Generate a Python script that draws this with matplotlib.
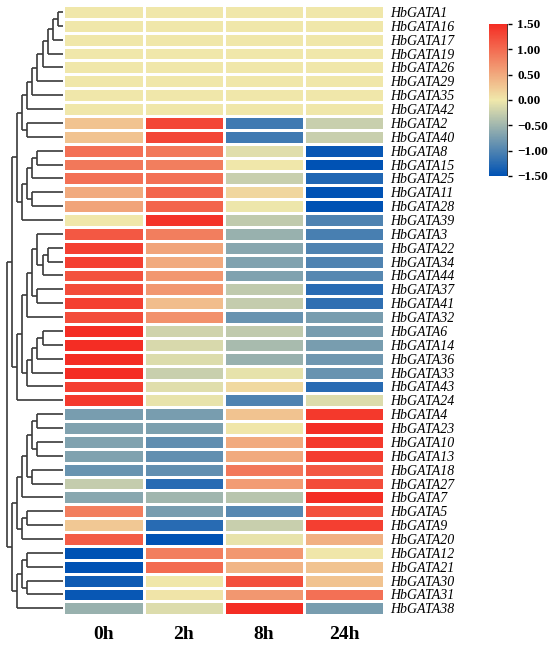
import numpy as np
import matplotlib
matplotlib.use("Agg")
import matplotlib.pyplot as plt
from matplotlib.colors import LinearSegmentedColormap, Normalize
from matplotlib.ticker import FuncFormatter

# time points
samples = ['0h', '2h', '8h', '24h']

# gene order as shown (top to bottom)
genes = ['HbGATA1', 'HbGATA16', 'HbGATA17', 'HbGATA19', 'HbGATA26', 'HbGATA29',
         'HbGATA35', 'HbGATA42', 'HbGATA2', 'HbGATA40', 'HbGATA8', 'HbGATA15',
         'HbGATA25', 'HbGATA11', 'HbGATA28', 'HbGATA39', 'HbGATA3', 'HbGATA22',
         'HbGATA34', 'HbGATA44', 'HbGATA37', 'HbGATA41', 'HbGATA32', 'HbGATA6',
         'HbGATA14', 'HbGATA36', 'HbGATA33', 'HbGATA43', 'HbGATA24', 'HbGATA4',
         'HbGATA23', 'HbGATA10', 'HbGATA13', 'HbGATA18', 'HbGATA27', 'HbGATA7',
         'HbGATA5', 'HbGATA9', 'HbGATA20', 'HbGATA12', 'HbGATA21', 'HbGATA30',
         'HbGATA31', 'HbGATA38']

# z-score values per time point
v_0h = [0, 0, 0, 0, 0, 0, 0, 0, 0.30, 0.30, 0.95, 0.90, 0.95, 0.50, 0.55, 0.0,
        1.15, 1.35, 1.35, 1.20, 1.25, 1.35, 1.25, 1.50, 1.50, 1.50, 1.50, 1.35, 1.40,
        -0.75, -0.70, -0.70, -0.70, -0.85, -0.28, -0.65,
        0.85, 0.25, 1.12, -1.55, -1.50, -1.40, -1.45, -0.55]
v_2h = [0, 0, 0, 0, 0, 0, 0, 0, 1.30, 1.30, 0.90, 0.85, 0.95, 1.05, 1.05, 1.45,
        0.85, 0.55, 0.50, 0.65, 0.65, 0.35, 0.70, -0.20, -0.15, -0.12, -0.25, -0.10, -0.05,
        -0.75, -0.72, -0.90, -0.88, -0.88, -1.25, -0.50,
        -0.75, -1.25, -1.50, 0.85, 1.00, 0.0, 0.03, -0.12]
v_8h = [0, 0, 0, 0, 0, 0, 0, 0, -1.10, -1.10, -0.10, 0.0, -0.25, 0.15, -0.02, -0.30,
        -0.55, -0.65, -0.70, -0.70, -0.30, -0.28, -0.85, -0.30, -0.45, -0.55, -0.07, 0.12, -1.00,
        0.30, 0.02, 0.50, 0.50, 0.90, 0.60, -0.35,
        -0.95, -0.25, -0.05, 0.65, 0.40, 1.22, 0.65, 1.50]
v_24h = [0, 0, 0, 0, 0, 0, 0, 0, -0.25, -0.25, -1.45, -1.50, -1.30, -1.50, -1.50, -1.00,
         -1.05, -1.00, -1.00, -0.95, -1.25, -1.20, -0.75, -0.75, -0.75, -0.80, -0.85, -1.25, -0.12,
         1.40, 1.48, 1.40, 1.38, 1.15, 1.25, 1.50,
         1.20, 1.35, 0.45, 0.02, 0.30, 0.30, 0.95, -0.75]


def N(a, b, h):
    return (a, b, h)


# row clustering tree (leaf names, merge height)
A1 = N(N(N(N(N(N(N('HbGATA1', 'HbGATA16', 1.0), 'HbGATA17', 2.1), 'HbGATA19', 3.1),
                 'HbGATA26', 4.1), 'HbGATA29', 5.3), 'HbGATA35', 6.3), 'HbGATA42', 7.3)
A2 = N(N(N(N('HbGATA8', 'HbGATA15', 5.3), 'HbGATA25', 6.3),
         N('HbGATA11', 'HbGATA28', 6.3), 7.3), 'HbGATA39', 8.3)
A = N(N(A1, N('HbGATA2', 'HbGATA40', 7.3), 8.3), A2, 9.3)
B = N(N(N('HbGATA3', N(N('HbGATA22', 'HbGATA34', 3.1), 'HbGATA44', 4.1), 5.3),
        N('HbGATA37', 'HbGATA41', 5.3), 6.3), 'HbGATA32', 7.3)
C = N(N(N(N('HbGATA6', 'HbGATA14', 4.1), 'HbGATA36', 5.3), 'HbGATA33', 6.3), 'HbGATA43', 7.3)
BC = N(N(B, C, 8.3), 'HbGATA24', 9.3)
D = N(N(N(N('HbGATA4', 'HbGATA23', 5.3), N('HbGATA10', 'HbGATA13', 5.3), 6.3),
        N('HbGATA18', 'HbGATA27', 6.3), 7.3), 'HbGATA7', 8.3)
E = N(N('HbGATA5', 'HbGATA9', 7.3), 'HbGATA20', 8.3)
F = N(N(N('HbGATA12', 'HbGATA21', 7.3), N('HbGATA30', 'HbGATA31', 7.3), 8.3), 'HbGATA38', 9.3)
tree = N(N(A, BC, 10.2), N(N(D, E, 9.3), F, 10.2), 11.2)

data = np.array([v_0h, v_2h, v_8h, v_24h]).T

cmap = LinearSegmentedColormap.from_list('bwr_tb', ['#0052b4', '#f0e8ab', '#f42d24'])
norm = Normalize(-1.5, 1.5)

plt.rcParams['font.family'] = ['Liberation Serif', 'DejaVu Serif']

W, H = 550, 646
fig = plt.figure(figsize=(5.5, 6.46), dpi=100)

hx0, hx1 = 63.3, 384.3
hy0, hy1 = 5, 615.3
ax = fig.add_axes([hx0 / W, 1 - hy1 / H, (hx1 - hx0) / W, (hy1 - hy0) / H])
ax.pcolormesh(data, cmap=cmap, norm=norm, edgecolors='white', linewidth=1.0)
ax.set_xlim(0, len(samples))
ax.set_ylim(len(genes), 0)
ax.set_xticks(np.arange(len(samples)) + 0.5)
ax.set_xticklabels(samples, fontsize=14, fontweight='bold')
ax.set_yticks(np.arange(len(genes)) + 0.5)
ax.set_yticklabels(genes, fontsize=10, style='italic')
ax.yaxis.tick_right()
ax.tick_params(length=0, pad=4)
ax.tick_params(axis='x', pad=8)
for s in ax.spines.values():
    s.set_visible(False)

# dendrogram
dax = fig.add_axes([0, 1 - hy1 / H, hx0 / W, (hy1 - hy0) / H])
pos = {g: i + 0.5 for i, g in enumerate(genes)}


def draw(node):
    if isinstance(node, str):
        return pos[node], 0.0
    a, b, h = node
    ya, ha = draw(a)
    yb, hb = draw(b)
    kw = dict(color='#3a3a3a', lw=1.2, solid_capstyle='butt')
    dax.plot([ha, h], [ya, ya], **kw)
    dax.plot([hb, h], [yb, yb], **kw)
    dax.plot([h, h], [ya, yb], **kw)
    return (ya + yb) / 2, h


draw(tree)
dax.set_xlim(hx0 / 5.0, 0)
dax.set_ylim(len(genes), 0)
dax.axis('off')

# colorbar
cax = fig.add_axes([489.3 / W, 1 - 176 / H, 19 / W, 152 / H])
sm = plt.cm.ScalarMappable(norm=norm, cmap=cmap)
cb = fig.colorbar(sm, cax=cax, ticks=[-1.5, -1.0, -0.5, 0, 0.5, 1.0, 1.5],
                  format=FuncFormatter(lambda x, p: f"{x:.2f}".replace('-', '\u2212')))
cb.outline.set_visible(False)
cax.tick_params(labelsize=9.5, length=3, width=1)
for t in cax.get_yticklabels():
    t.set_fontweight('bold')
cax.axvline(1, color='#333333', lw=1.2)

fig.savefig('out.png', dpi=100)
